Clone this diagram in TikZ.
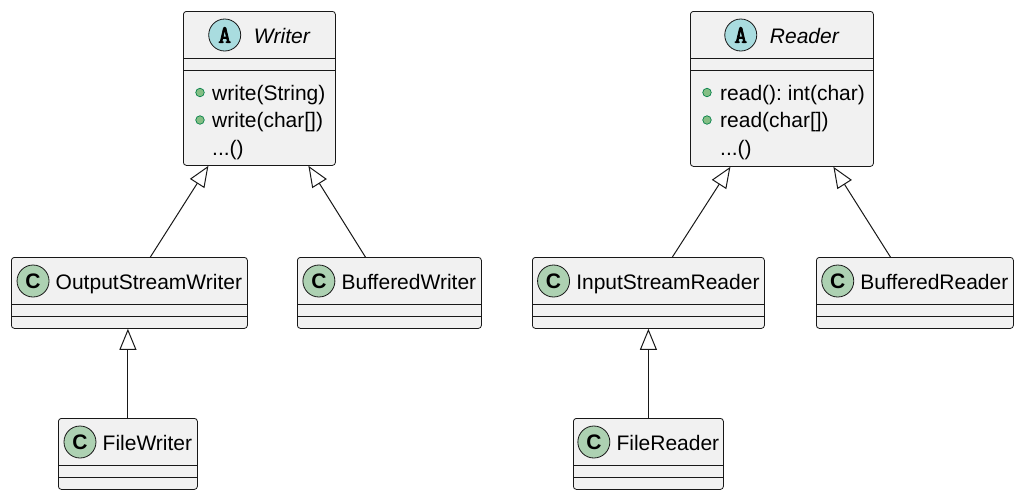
\documentclass[tikz,border=0pt]{standalone}
\usepackage{fontspec}
\setmainfont{Liberation Sans}
\newfontfamily\badgemono[AutoFakeBold=3]{Latin Modern Mono}
\usetikzlibrary{arrows.meta}
\usetikzlibrary{calc}
\frenchspacing

\definecolor{linegray}{HTML}{181818}
\definecolor{boxgray}{HTML}{F1F1F1}
\definecolor{abstractblue}{HTML}{A9DCDF}
\definecolor{classgreen}{HTML}{ADD1B2}
\definecolor{dotfill}{HTML}{84BE84}
\definecolor{dotline}{HTML}{038048}

\tikzset{
	classbox/.style={draw=linegray, fill=boxgray, rounded corners=3pt, line width=0.8pt, inner sep=0pt},
	badge/.style={circle, draw=linegray, line width=0.8pt, minimum size=32pt, inner sep=0pt},
	classname/.style={font=\fontsize{21}{25}\selectfont, inner sep=0pt, anchor=base},
	methodtext/.style={font=\fontsize{21}{25}\selectfont, inner sep=0pt, anchor=base west},
	memberdot/.style={circle, draw=dotline, fill=dotfill, line width=0.7pt, minimum size=8.5pt, inner sep=0pt},
	sep/.style={draw=linegray, line width=0.8pt},
	edge/.style={-{Triangle[open, length=21pt, width=17pt]}, draw=linegray, line width=1pt}
}

% concrete class: name, left, top, width, title
\newcommand{\concreteclass}[5]{%
	\node[classbox, anchor=north west, minimum width=#4pt, minimum height=71pt] (#1) at (#2,#3) {};
	\node[classname] (#1-name) at ([xshift=19.5pt, yshift=-32.5pt]#1.north) {#5};
	\node[badge, fill=classgreen, font=\fontsize{21}{21}\selectfont\bfseries] (#1-badge) at ([xshift=-22.5pt, yshift=8.5pt]#1-name.base west) {C};
	\draw[sep] ([yshift=-47pt]#1.north west) -- ([yshift=-47pt]#1.north east);
	\draw[sep] ([yshift=-59pt]#1.north west) -- ([yshift=-59pt]#1.north east);
}

% abstract class: name, left, top, width, height, title
\newcommand{\abstractclass}[6]{%
	\node[classbox, anchor=north west, minimum width=#4pt, minimum height=#5pt] (#1) at (#2,#3) {};
	\node[classname, font=\fontsize{21}{25}\selectfont\itshape] (#1-name) at ([xshift=22.5pt, yshift=-32.5pt]#1.north) {#6};
	\node[badge, fill=abstractblue, font=\fontsize{25}{25}\badgemono\bfseries] (#1-badge) at ([xshift=-29pt, yshift=8.5pt]#1-name.base west) {A};
	\draw[sep] ([yshift=-47pt]#1.north west) -- ([yshift=-47pt]#1.north east);
	\draw[sep] ([yshift=-59pt]#1.north west) -- ([yshift=-59pt]#1.north east);
}

\begin{document}
\begin{tikzpicture}[x=1pt, y=-1pt]
	\useasboundingbox (0,0) rectangle (1022,499);

	% writers
	\abstractclass{writer}{183}{11}{152}{154}{Writer}
	\node[memberdot] (writer-d1) at (200,92.5) {};
	\node[methodtext] (writer-m1) at (212,100) {write(String)};
	\node[memberdot] (writer-d2) at (200,120) {};
	\node[methodtext] (writer-m2) at (212,127.5) {write(char[])};
	\node[methodtext] (writer-m3) at (212,155) {...()};

	\concreteclass{osw}{11}{257}{236}{OutputStreamWriter}
	\concreteclass{bw}{297}{257}{184}{BufferedWriter}
	\concreteclass{fw}{58}{418}{139}{FileWriter}

	% readers
	\abstractclass{reader}{690}{11}{183}{155}{Reader}
	\node[memberdot] (reader-d1) at (707,92.5) {};
	\node[methodtext] (reader-m1) at (720,100) {read(): int(char)};
	\node[memberdot] (reader-d2) at (707,120) {};
	\node[methodtext] (reader-m2) at (720,127.5) {read(char[])};
	\node[methodtext] (reader-m3) at (720,155) {...()};

	\concreteclass{isr}{532}{257}{232}{InputStreamReader}
	\concreteclass{br}{816}{257}{197}{BufferedReader}
	\concreteclass{fr}{573}{418}{150}{FileReader}

	% inheritance
	\draw[edge] ([xshift=21pt]osw.north) -- ([xshift=-51pt]writer.south);
	\draw[edge] ([xshift=-24pt]bw.north) -- ([xshift=49pt]writer.south);
	\draw[edge] (fw.north) -- (fw.north |- osw.south);

	\draw[edge] ([xshift=24pt]isr.north) -- ([xshift=-51.5pt]reader.south);
	\draw[edge] ([xshift=-24.5pt]br.north) -- ([xshift=51.5pt]reader.south);
	\draw[edge] (fr.north) -- (fr.north |- isr.south);
\end{tikzpicture}
\end{document}
